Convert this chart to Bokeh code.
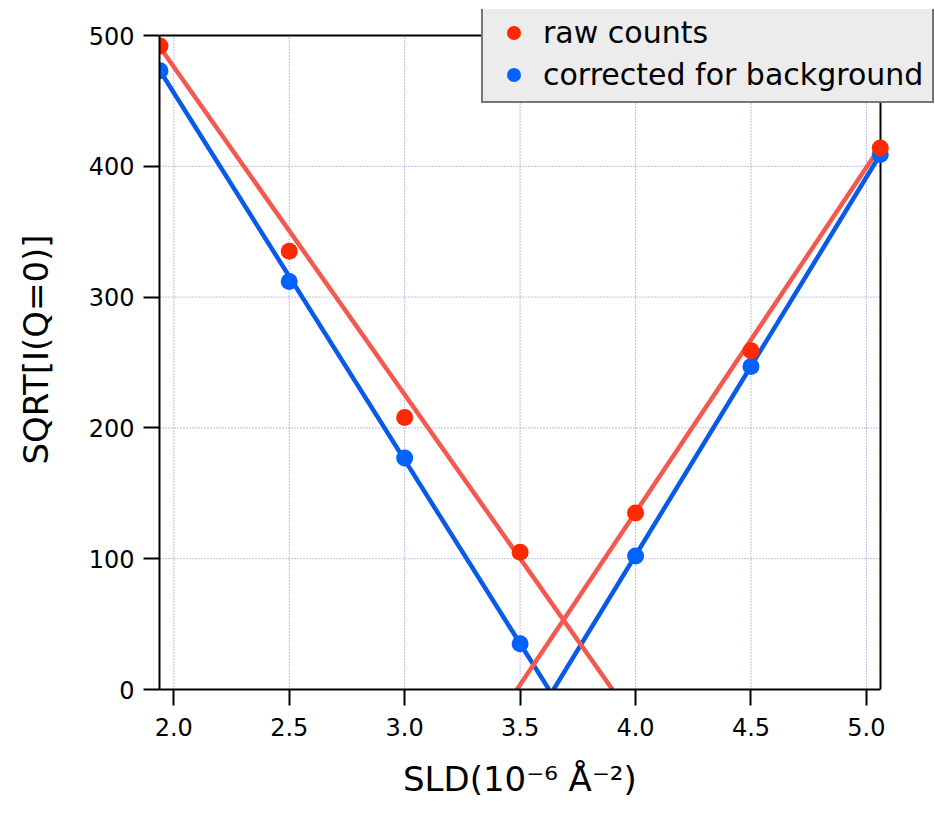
from bokeh.plotting import figure
from bokeh.models import Range1d, Legend, LegendItem, FixedTicker, NumeralTickFormatter, Title
from bokeh.embed import file_html
from bokeh.resources import INLINE

# data
sld = [1.94, 2.5, 3.0, 3.5, 4.0, 4.5, 5.06]
raw_counts = [492, 335, 208, 105, 135, 259, 414]
corrected = [473, 312, 177, 35, 102, 247, 409]

raw_fit_left_x = [1.94, 3.90]
raw_fit_left_y = [491, 0]
raw_fit_right_x = [3.475, 5.06]
raw_fit_right_y = [-3, 415]
cor_fit_left_x = [1.94, 3.625]
cor_fit_left_y = [473, 0]
cor_fit_right_x = [3.645, 5.06]
cor_fit_right_y = [0, 409]

x_ticks = [2.0, 2.5, 3.0, 3.5, 4.0, 4.5, 5.0]
y_ticks = [0, 100, 200, 300, 400, 500]

# axis extents
X_LO, X_HI = 1.938, 5.061
Y_LO, Y_HI = 0, 500

FONT = "DejaVu Sans"
RED_PT = "#ff2a00"
RED_LN = "#f25a50"
BLUE_PT = "#0062ff"
BLUE_LN = "#0a5ae8"

# layout: visible box 159..880 x 35..689 px; the frame is extended up/right
W, H = 935, 816
BOX_L, BOX_R, BOX_T, BOX_B = 159, 880, 35, 689
FR_T, FR_R = 9, 935
px_per_x = (BOX_R - BOX_L) / (X_HI - X_LO)
px_per_y = (BOX_B - BOX_T) / (Y_HI - Y_LO)
x_end = X_HI + (FR_R - BOX_R) / px_per_x
y_end = Y_HI + (BOX_T - FR_T) / px_per_y

p = figure(width=W, height=H, output_backend="svg", toolbar_location=None,
           x_range=Range1d(X_LO, x_end), y_range=Range1d(Y_LO, y_end),
           min_border_left=BOX_L, min_border_right=W - FR_R, min_border_top=FR_T,
           min_border_bottom=H - BOX_B)

p.outline_line_color = None
p.background_fill_color = "white"
p.border_fill_color = "white"
p.xgrid.visible = False
p.ygrid.visible = False

GRID = dict(line_color="#7c7cd4", line_width=1, line_dash="1 2")
# grid lines at tick positions, within the axis box
p.segment(x0=x_ticks, y0=[Y_LO] * len(x_ticks), x1=x_ticks, y1=[Y_HI] * len(x_ticks), **GRID)
p.segment(x0=[X_LO] * len(y_ticks), y0=y_ticks, x1=[X_HI] * len(y_ticks), y1=y_ticks, **GRID)

# box top and right edges
p.line([X_LO, X_HI, X_HI], [Y_HI, Y_HI, Y_LO], line_color="black", line_width=2)

# fit lines
p.line(cor_fit_left_x, cor_fit_left_y, line_color=BLUE_LN, line_width=4.5)
p.line(cor_fit_right_x, cor_fit_right_y, line_color=BLUE_LN, line_width=4.5)
p.line(raw_fit_left_x, raw_fit_left_y, line_color=RED_LN, line_width=4.5)
p.line(raw_fit_right_x, raw_fit_right_y, line_color=RED_LN, line_width=4.5)

# points
r_cor = p.scatter(sld, corrected, size=17, color=BLUE_PT, line_color=None)
r_raw = p.scatter(sld, raw_counts, size=17, color=RED_PT, line_color=None)

# axes
p.xaxis.ticker = FixedTicker(ticks=x_ticks)
p.yaxis.ticker = FixedTicker(ticks=y_ticks)
p.xaxis.formatter = NumeralTickFormatter(format="0.0")
p.yaxis.formatter = NumeralTickFormatter(format="0")
p.xaxis.bounds = (X_LO, X_HI)
p.yaxis.bounds = (Y_LO, Y_HI)
for ax in (p.xaxis[0], p.yaxis[0]):
    ax.axis_line_width = 2
    ax.axis_line_color = "black"
    ax.major_tick_line_width = 2
    ax.major_tick_line_color = "black"
    ax.major_tick_in = 0
    ax.major_tick_out = 16
    ax.minor_tick_line_color = None
    ax.major_label_text_font = FONT
    ax.major_label_text_font_size = "24px"
    ax.major_label_text_color = "black"
    ax.axis_label_text_font = FONT
    ax.axis_label_text_font_size = "34px"
    ax.axis_label_text_font_style = "normal"
    ax.axis_label_text_color = "black"

p.yaxis.axis_label = "SQRT[I(Q=0)]"
p.xaxis.major_label_standoff = 12
p.yaxis.major_label_standoff = 9
p.yaxis.axis_label_standoff = 30

# x-axis label, centred under the visible box (not the extended frame)
x_label = Title(text="SLD(10\u207b\u2076 \u00c5\u207b\u00b2)", align="left",
                offset=(BOX_R - BOX_L) / 2 - 117, standoff=36,
                text_font=FONT, text_font_size="34px", text_font_style="normal",
                text_color="black")
p.add_layout(x_label, "below")

# legend
legend = Legend(items=[LegendItem(label="raw counts", renderers=[r_raw]),
                       LegendItem(label="corrected for background", renderers=[r_cor])],
                location=(481 - BOX_L, BOX_B - 103))
legend.label_text_font = FONT
legend.label_text_font_size = "30px"
legend.label_text_color = "black"
legend.glyph_width = 43
legend.glyph_height = 35
legend.label_standoff = 8
legend.padding = 9
legend.spacing = 7
legend.margin = 0
legend.border_line_color = "black"
legend.border_line_width = 2
legend.background_fill_color = "#ececec"
legend.background_fill_alpha = 1
p.add_layout(legend, "center")

open("out.html", "w").write(file_html(p, INLINE))
